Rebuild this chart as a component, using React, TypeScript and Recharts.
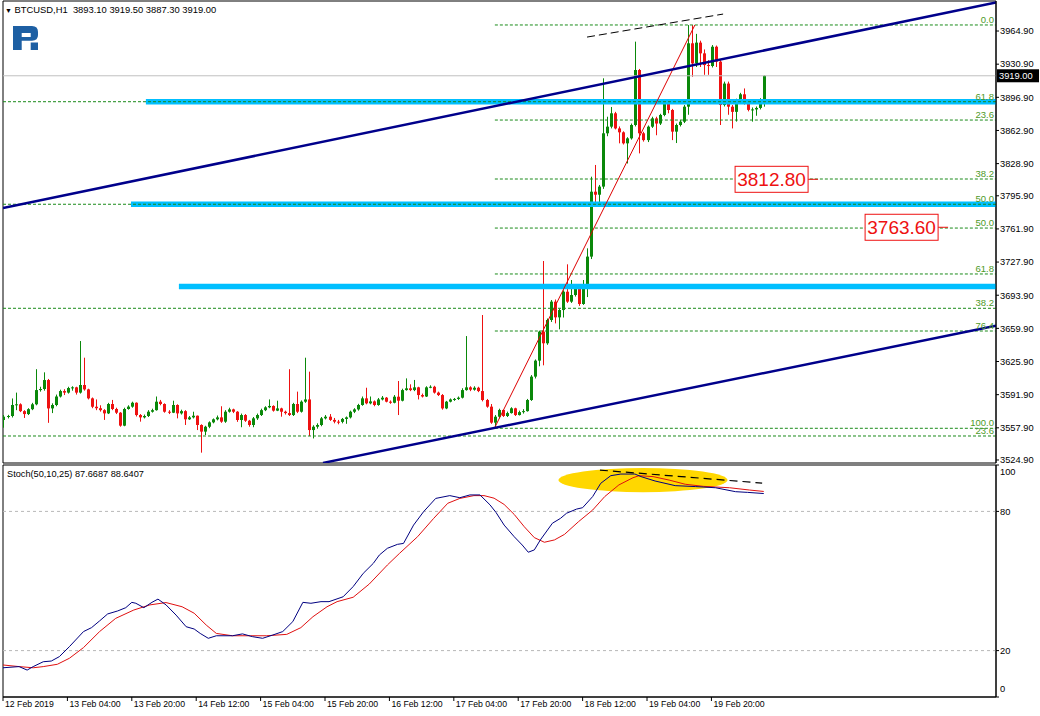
import React from 'react';
import {
  ComposedChart,
  Bar,
  Line,
  XAxis,
  YAxis,
  ReferenceLine,
  ReferenceArea,
  ReferenceDot,
} from 'recharts';

const FONT = '"Liberation Sans", Arial, sans-serif';
const GREEN = '#0a880a';
const RED = '#ee1111';
const NAVY = '#00008b';
const FIB_LINE = '#1a8a1a';
const FIB_TEXT = '#4e9a28';
const CYAN = '#00bfff';

// ---------- price data (H1 candles, bar index 0 = 12 Feb 12:00) ----------
const firstOpen = 3565.9;
const closes = [
  3569.3, 3570.0, 3581.3, 3582.0, 3575.0, 3572.0, 3577.0, 3582.0, 3596.6, 3597.7,
  3606.9, 3577.8, 3581.3, 3590.0, 3595.6, 3594.0, 3598.7, 3599.4, 3594.0, 3601.8,
  3597.3, 3588.1, 3579.5, 3578.0, 3576.0, 3572.7, 3582.3, 3577.2, 3573.4, 3560.1,
  3577.2, 3579.6, 3583.6, 3571.0, 3568.6, 3570.0, 3574.4, 3576.0, 3584.7, 3582.3,
  3574.4, 3573.4, 3581.3, 3572.7, 3575.0, 3566.6, 3568.6, 3570.3, 3560.8, 3554.0,
  3559.0, 3563.5, 3566.6, 3568.6, 3564.2, 3574.4, 3576.8, 3574.4, 3565.9, 3571.0,
  3565.2, 3560.8, 3567.6, 3571.0, 3576.0, 3578.9, 3580.3, 3575.5, 3577.8, 3574.4,
  3573.0, 3571.0, 3582.3, 3574.4, 3584.7, 3587.0, 3555.6, 3559.0, 3560.8, 3567.6,
  3569.3, 3566.0, 3564.2, 3564.0, 3567.0, 3568.6, 3574.4, 3576.8, 3581.3, 3588.1,
  3583.0, 3585.0, 3581.3, 3587.0, 3588.8, 3584.7, 3583.6, 3589.8, 3585.7, 3596.6,
  3598.4, 3596.6, 3599.4, 3591.5, 3590.0, 3599.4, 3600.0, 3594.0, 3591.5, 3577.8,
  3584.7, 3587.0, 3587.5, 3588.8, 3596.6, 3599.4, 3597.0, 3599.0, 3595.6, 3586.4,
  3579.6, 3563.2, 3569.3, 3576.2, 3570.0, 3573.0, 3577.9, 3571.0, 3574.0, 3575.0,
  3586.4, 3610.4, 3626.8, 3656.5, 3644.6, 3668.5, 3687.3, 3671.2, 3678.7, 3697.5,
  3687.3, 3694.1, 3703.4, 3684.9, 3704.4, 3733.5, 3800.1, 3797.0, 3805.3, 3860.0,
  3866.8, 3880.5, 3865.0, 3861.0, 3849.7, 3854.8, 3868.5, 3924.9, 3860.0, 3853.0,
  3866.8, 3875.3, 3870.0, 3878.8, 3890.7, 3883.9, 3861.7, 3868.5, 3871.9, 3887.3,
  3952.3, 3931.7, 3953.0, 3942.0, 3930.0, 3929.0, 3948.8, 3933.5, 3889.0, 3911.0,
  3887.3, 3882.0, 3894.0, 3900.0, 3890.7, 3884.0, 3884.5, 3886.0, 3893.1, 3919.0,
];
const highs = [
  3571.0, 3571.2, 3588.0, 3594.0, 3583.0, 3576.0, 3578.0, 3583.5, 3618.0, 3600.0,
  3614.8, 3608.0, 3583.0, 3592.0, 3597.0, 3597.5, 3600.0, 3600.5, 3600.0, 3646.9,
  3629.8, 3598.0, 3589.0, 3587.0, 3581.0, 3577.0, 3583.5, 3586.5, 3578.5, 3574.0,
  3578.5, 3581.0, 3584.7, 3584.0, 3572.0, 3571.5, 3576.0, 3577.5, 3590.0, 3586.5,
  3583.0, 3576.0, 3585.7, 3582.0, 3576.5, 3576.0, 3570.0, 3574.4, 3570.5, 3561.5,
  3560.0, 3564.5, 3567.5, 3570.5, 3580.0, 3576.0, 3578.5, 3577.5, 3575.0, 3572.5,
  3572.0, 3566.0, 3569.0, 3572.5, 3577.5, 3580.0, 3587.0, 3581.0, 3585.7, 3578.5,
  3575.5, 3618.0, 3583.5, 3595.0, 3586.0, 3629.8, 3615.5, 3560.5, 3562.5, 3569.0,
  3571.0, 3572.0, 3568.0, 3566.0, 3568.0, 3569.5, 3575.5, 3578.0, 3582.5, 3590.0,
  3599.0, 3590.0, 3586.0, 3588.5, 3590.5, 3589.5, 3586.0, 3591.5, 3605.9, 3598.0,
  3608.6, 3602.5, 3607.0, 3600.0, 3593.0, 3600.5, 3601.5, 3601.0, 3595.0, 3592.5,
  3585.5, 3588.0, 3588.5, 3590.0, 3598.5, 3652.0, 3600.5, 3600.5, 3600.0, 3673.6,
  3587.5, 3582.3, 3571.0, 3577.5, 3576.5, 3574.5, 3579.0, 3578.5, 3575.5, 3577.0,
  3587.5, 3612.0, 3628.0, 3657.5, 3729.0, 3670.0, 3689.0, 3689.5, 3680.0, 3699.0,
  3725.6, 3709.5, 3705.0, 3704.5, 3709.5, 3742.0, 3815.5, 3827.5, 3807.0, 3916.4,
  3877.0, 3887.0, 3882.0, 3867.0, 3862.0, 3856.0, 3870.0, 3954.0, 3926.0, 3861.5,
  3868.0, 3877.0, 3877.0, 3880.0, 3894.0, 3894.0, 3885.0, 3870.0, 3873.5, 3889.0,
  3971.0, 3971.0, 3962.0, 3955.0, 3946.0, 3935.0, 3950.5, 3950.0, 3935.0, 3913.0,
  3913.0, 3889.0, 3895.5, 3901.5, 3906.0, 3892.0, 3886.5, 3887.5, 3896.0, 3919.5,
];
const lows = [
  3558.0, 3567.5, 3568.5, 3576.0, 3574.0, 3568.0, 3571.0, 3576.0, 3581.0, 3595.0,
  3596.0, 3563.0, 3573.0, 3580.0, 3589.0, 3591.5, 3593.0, 3596.0, 3592.0, 3593.0,
  3596.0, 3587.0, 3578.0, 3576.0, 3574.5, 3566.0, 3572.0, 3576.0, 3572.0, 3559.0,
  3559.5, 3576.5, 3578.5, 3569.5, 3564.2, 3567.5, 3569.0, 3573.5, 3575.5, 3581.0,
  3573.4, 3572.0, 3573.0, 3567.6, 3571.5, 3560.8, 3566.0, 3567.5, 3555.6, 3532.4,
  3550.5, 3557.5, 3562.5, 3565.5, 3563.0, 3563.0, 3573.5, 3573.0, 3564.0, 3558.5,
  3564.0, 3559.0, 3558.5, 3566.0, 3570.0, 3575.0, 3578.0, 3574.5, 3575.0, 3569.3,
  3571.5, 3570.0, 3570.0, 3573.0, 3573.5, 3583.5, 3549.5, 3547.0, 3557.0, 3559.5,
  3566.5, 3565.0, 3562.5, 3561.5, 3562.5, 3562.0, 3567.5, 3573.0, 3575.5, 3580.5,
  3582.0, 3582.0, 3580.0, 3580.5, 3586.0, 3584.0, 3582.5, 3583.0, 3571.0, 3585.0,
  3596.0, 3595.5, 3595.5, 3587.0, 3589.0, 3589.5, 3598.5, 3593.0, 3590.5, 3576.5,
  3577.0, 3584.0, 3585.5, 3586.5, 3588.0, 3596.0, 3595.5, 3596.0, 3594.5, 3585.0,
  3578.5, 3562.0, 3557.7, 3567.5, 3569.0, 3569.0, 3572.5, 3570.0, 3570.5, 3572.5,
  3574.5, 3585.5, 3608.5, 3621.0, 3622.0, 3643.0, 3666.5, 3665.0, 3658.9, 3671.0,
  3686.0, 3686.0, 3692.5, 3683.0, 3684.0, 3692.0, 3731.0, 3784.7, 3785.0, 3803.0,
  3857.0, 3865.0, 3864.0, 3849.7, 3848.5, 3829.0, 3853.5, 3867.0, 3839.4, 3851.5,
  3851.0, 3865.5, 3858.0, 3868.5, 3877.5, 3880.5, 3853.0, 3850.0, 3867.0, 3870.5,
  3879.0, 3918.0, 3928.0, 3928.0, 3920.0, 3920.0, 3927.5, 3928.0, 3868.5, 3887.5,
  3879.0, 3865.0, 3872.0, 3892.5, 3889.5, 3882.5, 3872.0, 3878.0, 3884.5, 3887.3,
];

const candles = closes.map((c, i) => ({
  i,
  open: i === 0 ? firstOpen : closes[i - 1],
  close: c,
  high: highs[i],
  low: lows[i],
  range: [lows[i], highs[i]],
}));

// ---------- axes ----------
const X_MAX = 246.7;
const PRICE_MIN = 3521.8;
const PRICE_MAX = 3995.7;
const priceTicks = [3964.9, 3930.9, 3896.9, 3862.9, 3828.9, 3795.9, 3761.9, 3727.9, 3693.9, 3659.9, 3625.9, 3591.9, 3557.9, 3524.9];
const timeTickIdx = [0, 16, 32, 48, 64, 80, 96, 112, 128, 144, 160, 176];
const timeTickLabels = ['12 Feb 2019', '13 Feb 04:00', '13 Feb 20:00', '14 Feb 12:00', '15 Feb 04:00', '15 Feb 20:00', '16 Feb 12:00', '17 Feb 04:00', '17 Feb 20:00', '18 Feb 12:00', '19 Feb 04:00', '19 Feb 20:00'];
const stochTicks = [0, 20, 80, 100];

// ---------- objects ----------
const bidPrice = 3919.0;
const fibRightStart = 122.2;
const fibRightLabels = ['0.0', '23.6', '38.2', '50.0', '61.8', '76.4', '100.0'];
const fibRightPrices = [3971.1, 3873.6, 3813.1, 3762.8, 3715.7, 3657.2, 3557.4];
const fibLeftStart = 0;
const fibLeftLabels = ['61.8', '50.0', '38.2', '23.6'];
const fibLeftPrices = [3892.4, 3787.2, 3680.5, 3549.5];
const bandPrices = [3892.4, 3787.3, 3702.9];
const bandStarts = [35.5, 31.8, 43.7];
const upperChannel = [{ x: 0, y: 3783.4 }, { x: 246.7, y: 3994.2 }];
const lowerChannel = [{ x: 79.5, y: 3521.9 }, { x: 246.7, y: 3662.6 }];
const fibBase = [{ x: 122.2, y: 3558.4 }, { x: 171.9, y: 3971.1 }];
const topDashed = [{ x: 145.1, y: 3958.7 }, { x: 178.9, y: 3982.3 }];
const priceLabelTexts = ['3812.80', '3763.60'];
const priceLabelValues = [3812.8, 3763.6];
const priceLabelIdx = [202.5, 234.8];

// ---------- stochastic ----------
const stochMainIdx = [0, 4, 6, 7.5, 10, 12, 14, 16.5, 20, 22, 24, 26, 28.5, 30.5, 32, 33, 35, 37, 38.5, 40.5, 43, 45.5, 47.5, 49, 51, 53, 57, 59.5, 62, 64.5, 67, 69.5, 72, 74.5, 76.5, 79, 81, 84.5, 87, 89.5, 92, 93.5, 95.5, 98, 99.5, 102, 104.5, 107.5, 111, 113.5, 116, 118.5, 121, 122.5, 124.5, 127, 129, 130.5, 132, 133.5, 136.5, 138.5, 140, 142.5, 144, 146.5, 148.5, 151, 153.5, 157, 158.5, 162, 167, 172, 177, 182, 185, 189];
const stochMainVals = [12.6, 13.1, 11.6, 13.1, 15.2, 15.5, 17.4, 21.7, 28.2, 29.9, 32.8, 35.8, 37.1, 38.5, 40.8, 40.4, 38.5, 40.8, 42.2, 39.7, 35.3, 30.3, 29.3, 27.4, 25.3, 26.4, 26.4, 27.2, 26.0, 25.3, 26.7, 28.2, 32.5, 40.8, 40.4, 41.1, 41.1, 43.2, 47.6, 53.3, 57.6, 61.2, 64.1, 65.8, 66.2, 74.1, 79.9, 85.6, 86.8, 85.9, 87.1, 87.1, 82.8, 79.5, 74.1, 69.1, 65.5, 62.4, 63.4, 67.7, 74.9, 77.0, 79.2, 81.0, 81.6, 86.4, 92.1, 95.4, 96.1, 96.1, 95.0, 93.1, 91.1, 90.7, 90.2, 88.5, 88.2, 87.7];
const stochSignalIdx = [0, 4, 7.5, 10, 13.5, 16.5, 20, 24, 28, 32.5, 36.5, 40.5, 44.5, 47.5, 50.5, 53, 57, 61.5, 65.5, 70.5, 74, 77, 80.5, 83, 87, 91, 95.5, 98.5, 103, 107, 110.5, 113.5, 117, 119.5, 122, 124.5, 127, 129.5, 132, 134.5, 137, 139.5, 143, 146.5, 149.5, 153, 156.5, 158, 161.5, 165.5, 169.5, 174, 180.5, 185.5, 189];
const stochSignalVals = [13.8, 13.1, 12.6, 13.1, 14.1, 16.7, 21.3, 28.2, 33.9, 37.5, 39.7, 40.7, 38.9, 36.1, 31.0, 27.4, 26.4, 26.4, 26.4, 27.0, 29.9, 34.6, 38.9, 41.1, 43.0, 48.7, 56.9, 61.9, 69.1, 77.0, 83.5, 85.6, 86.8, 86.8, 85.7, 83.0, 78.7, 73.4, 68.7, 66.7, 67.7, 70.1, 75.6, 80.6, 86.4, 91.4, 94.5, 95.4, 95.0, 93.5, 91.7, 90.8, 90.2, 89.2, 88.6];
const stochMainData = stochMainIdx.map((i, k) => ({ i, v: stochMainVals[k] }));
const stochSignalData = stochSignalIdx.map((i, k) => ({ i, v: stochSignalVals[k] }));
const highlightX = [138, 180];
const highlightY = [88.3, 98.7];
const stochDashed = [{ x: 148.3, y: 97.8 }, { x: 188.6, y: 92.2 }];

// ---------- shapes ----------
function CandleShape(props: any) {
  const { x, y, width, height, payload } = props;
  if (x == null || y == null || !payload) return null;
  const { open, close, high, low } = payload;
  const top = Math.min(y, y + height);
  const bottom = Math.max(y, y + height);
  const span = high - low;
  const k = span > 0 ? (bottom - top) / span : 0;
  const yOf = (v: number) => top + (high - v) * k;
  const cx = Math.round(x + width / 2) + 0.5;
  const yO = yOf(open);
  const yC = yOf(close);
  const bTop = Math.min(yO, yC);
  const bH = Math.max(1, Math.abs(yO - yC));
  const color = close >= open ? GREEN : RED;
  return (
    <g>
      <line x1={cx} x2={cx} y1={top} y2={bottom} stroke={color} strokeWidth={1} />
      <rect x={cx - 1.5} y={bTop} width={3} height={bH} fill={color} />
    </g>
  );
}

function makePriceBox(text: string) {
  return (props: any) => {
    const { cx, cy } = props;
    if (cx == null || cy == null) return null;
    return (
      <g>
        <line x1={cx - 10} x2={cx} y1={cy} y2={cy} stroke={RED} strokeWidth={1} />
        <rect x={cx - 83} y={cy - 13} width={73} height={26} fill="#fff" stroke={RED} strokeWidth={1} />
        <text x={cx - 46.5} y={cy} dy="0.36em" textAnchor="middle" fontSize={19} fontFamily={FONT} fill={RED}>
          {text}
        </text>
      </g>
    );
  };
}

function BidBox(props: any) {
  const { cx, cy } = props;
  if (cx == null || cy == null) return null;
  return (
    <g>
      <rect x={cx + 1} y={cy - 6.5} width={42} height={13} fill="#000" />
      <text x={cx + 3} y={cy} dy="0.36em" fontSize={9.3} fontFamily={FONT} fill="#fff">
        {bidPrice.toFixed(2)}
      </text>
    </g>
  );
}

function TimeTick(props: any) {
  const { x, y, payload } = props;
  const k = timeTickIdx.indexOf(payload.value);
  return (
    <text x={x + 2} y={y} dy="0.71em" textAnchor="start" fontSize={8.7} fontFamily={FONT} fill="#000">
      {k >= 0 ? timeTickLabels[k] : ''}
    </text>
  );
}

function StochTick(props: any) {
  const { x, y, payload } = props;
  const v = payload.value;
  const shift = v === 100 ? 7 : v === 0 ? -8 : 0;
  return (
    <text x={x} y={y + shift} dy="0.36em" textAnchor="start" fontSize={9.3} fontFamily={FONT} fill="#000">
      {v}
    </text>
  );
}

function EllipseShape(props: any) {
  const { x, y, width, height } = props;
  if (x == null) return null;
  return <ellipse cx={x + width / 2} cy={y + height / 2} rx={width / 2} ry={height / 2} fill="#ffd700" />;
}

function Logo() {
  return (
    <svg width={27} height={27} viewBox="0 0 27 27" style={{ position: 'absolute', left: 13, top: 26 }}>
      <path
        fillRule="evenodd"
        d="M0 0 H19 Q25 0 25 6 V9 Q25 14.7 19 14.7 H8.7 V24 H0 Z M8.7 7 H17.7 V11 H8.7 Z"
        fill="#1d5fa3"
      />
      <rect x={17.7} y={16.5} width={7.3} height={7.5} fill="#1d5fa3" />
    </svg>
  );
}

export default function App() {
  return (
    <div style={{ position: 'absolute', left: 0, top: 0, width: 1040, height: 716, background: '#fff', fontFamily: FONT }}>
      <div style={{ position: 'absolute', left: 0, top: 0 }}>
        <ComposedChart width={1040} height={464} data={candles} margin={{ top: 1, right: 0, bottom: 1, left: 3 }}>
          <XAxis dataKey="i" type="number" domain={[0, X_MAX]} allowDataOverflow hide />
          <YAxis
            orientation="right"
            type="number"
            domain={[PRICE_MIN, PRICE_MAX]}
            allowDataOverflow
            ticks={priceTicks}
            interval={0}
            tickFormatter={(v: number) => v.toFixed(2)}
            width={44}
            tickSize={3}
            tickMargin={1}
            axisLine={{ stroke: '#000' }}
            tickLine={{ stroke: '#000' }}
            tick={{ fontSize: 9.3, fontFamily: FONT, fill: '#000' }}
          />
          <ReferenceArea x1={0} x2={X_MAX} y1={PRICE_MIN} y2={PRICE_MAX} fill="none" stroke="#000" strokeWidth={1} ifOverflow="visible" />
          <ReferenceLine y={bidPrice} stroke="#c0c0c0" strokeWidth={1} />
          <Bar dataKey="range" barSize={3} shape={CandleShape} isAnimationActive={false} />
          {bandPrices.map((p, k) => (
            <ReferenceLine
              key={'band' + k}
              segment={[{ x: bandStarts[k], y: p }, { x: X_MAX, y: p }]}
              stroke={CYAN}
              strokeWidth={5.5}
              ifOverflow="hidden"
            />
          ))}
          {fibLeftPrices.map((p, k) => (
            <ReferenceLine
              key={'fl' + k}
              segment={[{ x: fibLeftStart, y: p }, { x: X_MAX, y: p }]}
              stroke={FIB_LINE}
              strokeDasharray="3 2"
              strokeWidth={1}
              ifOverflow="hidden"
              label={{ value: fibLeftLabels[k], position: 'insideBottomRight', offset: 2, fill: FIB_TEXT, fontSize: 9.5, fontFamily: FONT }}
            />
          ))}
          {fibRightPrices.map((p, k) => (
            <ReferenceLine
              key={'fr' + k}
              segment={[{ x: fibRightStart, y: p }, { x: X_MAX, y: p }]}
              stroke={FIB_LINE}
              strokeDasharray="3 2"
              strokeWidth={1}
              ifOverflow="hidden"
              label={{ value: fibRightLabels[k], position: 'insideBottomRight', offset: 2, fill: FIB_TEXT, fontSize: 9.5, fontFamily: FONT }}
            />
          ))}
          <ReferenceLine segment={fibBase} stroke="#dd0000" strokeWidth={1} ifOverflow="hidden" />
          <ReferenceLine segment={upperChannel} stroke={NAVY} strokeWidth={2.5} ifOverflow="hidden" />
          <ReferenceLine segment={lowerChannel} stroke={NAVY} strokeWidth={2.5} ifOverflow="hidden" />
          <ReferenceLine segment={topDashed} stroke="#000" strokeWidth={1} strokeDasharray="8 4" ifOverflow="hidden" />
          {priceLabelValues.map((p, k) => (
            <ReferenceDot
              key={'pl' + k}
              x={priceLabelIdx[k]}
              y={p}
              r={0}
              ifOverflow="visible"
              shape={makePriceBox(priceLabelTexts[k])}
            />
          ))}
          <ReferenceDot x={X_MAX} y={bidPrice} r={0} ifOverflow="visible" shape={BidBox} />
        </ComposedChart>
      </div>

      <div style={{ position: 'absolute', left: 0, top: 463 }}>
        <ComposedChart width={1040} height={253} margin={{ top: 2, right: 0, bottom: 0, left: 3 }}>
          <XAxis
            dataKey="i"
            type="number"
            domain={[0, X_MAX]}
            allowDataOverflow
            ticks={timeTickIdx}
            interval={0}
            height={19}
            tickSize={4}
            tickMargin={0}
            axisLine={{ stroke: '#000' }}
            tickLine={{ stroke: '#000' }}
            tick={TimeTick}
          />
          <YAxis
            orientation="right"
            type="number"
            domain={[0, 100]}
            allowDataOverflow
            ticks={stochTicks}
            interval={0}
            width={44}
            tickSize={3}
            tickMargin={1}
            axisLine={{ stroke: '#000' }}
            tickLine={{ stroke: '#000' }}
            tick={StochTick}
          />
          <ReferenceArea x1={0} x2={X_MAX} y1={0} y2={100} fill="none" stroke="#000" strokeWidth={1} ifOverflow="visible" />
          <ReferenceArea x1={highlightX[0]} x2={highlightX[1]} y1={highlightY[0]} y2={highlightY[1]} shape={EllipseShape} ifOverflow="visible" />
          <ReferenceLine y={80} stroke="#b8b8b8" strokeDasharray="3 3" />
          <ReferenceLine y={20} stroke="#b8b8b8" strokeDasharray="3 3" />
          <Line data={stochSignalData} dataKey="v" type="linear" stroke="#e01010" strokeWidth={1} dot={false} activeDot={false} isAnimationActive={false} />
          <Line data={stochMainData} dataKey="v" type="linear" stroke="#000080" strokeWidth={1} dot={false} activeDot={false} isAnimationActive={false} />
          <ReferenceLine segment={stochDashed} stroke="#000" strokeWidth={1.2} strokeDasharray="8 5" ifOverflow="hidden" />
        </ComposedChart>
      </div>

      <div style={{ position: 'absolute', left: 5, top: 4, fontSize: 9.4, lineHeight: '12px', color: '#000', whiteSpace: 'pre' }}>
        <span style={{ fontSize: 7 }}>▼</span> BTCUSD,H1  3893.10 3919.50 3887.30 3919.00
      </div>
      <Logo />
      <div style={{ position: 'absolute', left: 7, top: 468, fontSize: 9.2, lineHeight: '12px', color: '#000', whiteSpace: 'pre' }}>
        Stoch(50,10,25) 87.6687 88.6407
      </div>
    </div>
  );
}
